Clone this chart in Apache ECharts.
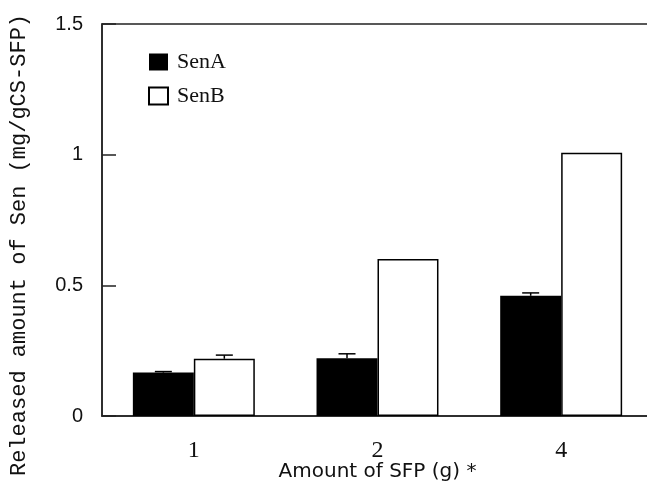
<!DOCTYPE html>
<html>
<head>
<meta charset="utf-8">
<script src="https://cdn.jsdelivr.net/npm/echarts@6/dist/echarts.min.js"></script>
<style>
  html, body { margin: 0; padding: 0; background: #fff; }
  #chart { width: 647px; height: 495px; }
</style>
</head>
<body>
<div id="chart"></div>
<script>
const categories = ['1', '2', '4'];
const seriesNames = ['SenA', 'SenB'];
const senA = [0.166, 0.221, 0.460];
const senB = [0.219, 0.601, 1.007];
const senAErr = [0.004, 0.017, 0.011];
const senBErr = [0.014, 0, 0];
const yTicks = [0, 0.5, 1, 1.5];
const xTitle = 'Amount of SFP (g) *';
const yTitle = 'Released amount of Sen (mg/gCS-SFP)';

const chart = echarts.init(document.getElementById('chart'), null, { renderer: 'canvas' });

const BAR_FRAC = 0.332;
function errorSeries(name, values, errs, side) {
  return {
    type: 'custom',
    name: name + ' error',
    z: 5,
    silent: true,
    data: values.map((v, i) => [i, v, v + errs[i]]),
    renderItem: function (params, api) {
      const idx = api.value(0);
      const lo = api.value(1);
      const hi = api.value(2);
      if (hi <= lo) return null;
      const band = api.size([1, 0])[0];
      const bw = band * BAR_FRAC;
      const base = api.coord([idx, lo]);
      const top = api.coord([idx, hi]);
      const cx = base[0] + side * bw / 2;
      const half = 8.5;
      return {
        type: 'group',
        children: [
          { type: 'line', shape: { x1: cx, y1: base[1], x2: cx, y2: top[1] }, style: { stroke: '#000', lineWidth: 1.5 } },
          { type: 'line', shape: { x1: cx - half, y1: top[1], x2: cx + half, y2: top[1] }, style: { stroke: '#000', lineWidth: 1.5 } }
        ]
      };
    }
  };
}

const option = {
  animation: false,
  backgroundColor: '#fff',
  grid: {
    left: 102, width: 551, top: 24, bottom: 79,
    containLabel: false,
    outerBoundsMode: 'none',
    show: true, borderColor: '#222', borderWidth: 1.5, backgroundColor: 'transparent'
  },
  legend: {
    orient: 'vertical',
    left: 143,
    top: 46,
    itemWidth: 19,
    itemHeight: 17,
    itemGap: 12,
    data: seriesNames,
    icon: 'rect',
    textStyle: { fontFamily: 'Liberation Serif', fontSize: 22, color: '#111', lineHeight: 21, padding: [0, 0, 0, 4] }
  },
  xAxis: {
    type: 'category',
    data: categories,
    boundaryGap: true,
    axisLine: { lineStyle: { color: '#222', width: 1.5 } },
    axisTick: { inside: true, length: 13, lineStyle: { color: '#222', width: 1.5 } },
    axisLabel: { fontFamily: 'Liberation Serif', fontSize: 24, color: '#111', margin: 23 },
    name: xTitle,
    nameLocation: 'middle',
    nameGap: 46,
    nameMoveOverlap: false,
    nameTextStyle: { fontFamily: 'DejaVu Sans', fontSize: 20, color: '#111' }
  },
  yAxis: {
    type: 'value',
    min: yTicks[0],
    max: yTicks[yTicks.length - 1],
    interval: yTicks[1] - yTicks[0],
    splitLine: { show: false },
    axisLine: { show: true, lineStyle: { color: '#222', width: 1.5 } },
    axisTick: { show: true, inside: true, length: 14, lineStyle: { color: '#222', width: 1.5 } },
    axisLabel: { fontFamily: 'Liberation Sans', fontSize: 20, color: '#111', margin: 19 },
    name: yTitle,
    nameLocation: 'middle',
    nameGap: 72,
    nameMoveOverlap: false,
    nameTextStyle: { fontFamily: 'Liberation Mono', fontSize: 22, color: '#111', padding: [0, 50, 0, 0] }
  },
  series: [
    {
      name: seriesNames[0],
      type: 'bar',
      data: senA,
      barWidth: (BAR_FRAC * 100) + '%',
      barGap: '0%',
      itemStyle: { color: '#000', borderColor: '#000', borderWidth: 0 }
    },
    {
      name: seriesNames[1],
      type: 'bar',
      data: senB,
      barWidth: (BAR_FRAC * 100) + '%',
      barGap: '0%',
      itemStyle: { color: '#fff', borderColor: '#000', borderWidth: 1.5 }
    },
    errorSeries(seriesNames[0], senA, senAErr, -1),
    errorSeries(seriesNames[1], senB, senBErr, 1)
  ]
};
chart.setOption(option);
</script>
</body>
</html>
